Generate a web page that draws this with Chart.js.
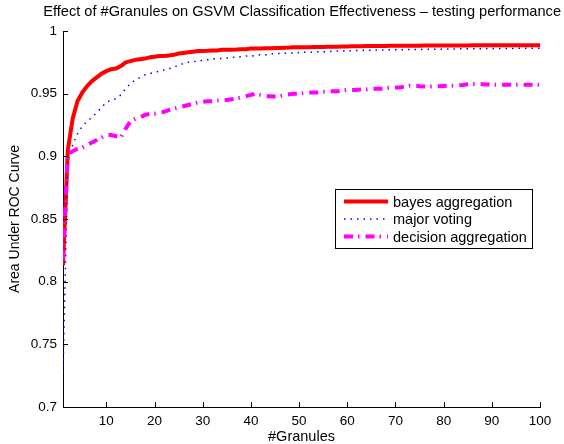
<!DOCTYPE html>
<html>
<head>
<meta charset="utf-8">
<script src="https://cdn.jsdelivr.net/npm/chart.js@4.4.1/dist/chart.umd.min.js"></script>
<style>
  html, body { margin: 0; padding: 0; background: #fff; }
  #wrap { width: 564px; height: 444px; }
</style>
</head>
<body>
<div id="wrap"><canvas id="aucChart" width="564" height="444"></canvas></div>
<script>
// #Granules on the x axis
var granules = Array.from({ length: 100 }, function (_, i) { return i + 1; });

var bayesAggregation = [
  0.813, 0.905, 0.930, 0.944, 0.951, 0.956, 0.960, 0.963, 0.966, 0.968,
  0.9695, 0.970, 0.972, 0.975, 0.976, 0.977, 0.9775, 0.978, 0.979, 0.9795,
  0.980, 0.980, 0.9805, 0.981, 0.982, 0.9825, 0.983, 0.9835, 0.984, 0.984,
  0.9842, 0.9845, 0.9845, 0.985, 0.985, 0.985, 0.9852, 0.9855, 0.9855, 0.986,
  0.986, 0.986, 0.9862, 0.9862, 0.9865, 0.9865, 0.9867, 0.9868, 0.987, 0.987,
  0.987, 0.987, 0.9872, 0.9872, 0.9873, 0.9875, 0.9875, 0.9875, 0.9876, 0.9877,
  0.9878, 0.9878, 0.9879, 0.988, 0.988, 0.988, 0.988, 0.9881, 0.9882, 0.9882,
  0.9882, 0.9882, 0.9883, 0.9883, 0.9883, 0.9884, 0.9884, 0.9884, 0.9884, 0.9885,
  0.9885, 0.9885, 0.9885, 0.9885, 0.9885, 0.9886, 0.9886, 0.9886, 0.9886, 0.9886,
  0.9886, 0.9886, 0.9886, 0.9887, 0.9887, 0.9887, 0.9887, 0.9887, 0.9887, 0.9887
];

var majorVoting = [
  0.727, 0.896, 0.909, 0.918, 0.924, 0.928, 0.931, 0.935, 0.939, 0.943,
  0.945, 0.946, 0.949, 0.954, 0.958, 0.961, 0.963, 0.965, 0.966, 0.967,
  0.968, 0.969, 0.970, 0.971, 0.973, 0.974, 0.975, 0.9755, 0.976, 0.9765,
  0.977, 0.9775, 0.978, 0.978, 0.9785, 0.979, 0.979, 0.9795, 0.980, 0.980,
  0.9805, 0.981, 0.981, 0.9815, 0.982, 0.982, 0.9822, 0.9824, 0.9826, 0.9828,
  0.983, 0.983, 0.9832, 0.9834, 0.9835, 0.9836, 0.9838, 0.984, 0.984, 0.9842,
  0.9843, 0.9844, 0.9845, 0.9846, 0.9847, 0.9848, 0.9848, 0.9849, 0.985, 0.985,
  0.985, 0.9851, 0.9852, 0.9852, 0.9853, 0.9854, 0.9854, 0.9855, 0.9855, 0.9856,
  0.9856, 0.9857, 0.9857, 0.9858, 0.9858, 0.9858, 0.9859, 0.9859, 0.986, 0.986,
  0.986, 0.986, 0.9861, 0.9861, 0.9861, 0.9862, 0.9862, 0.9862, 0.9862, 0.9862
];

var decisionAggregation = [
  0.818, 0.902, 0.904, 0.906, 0.907, 0.909, 0.911, 0.913, 0.915, 0.917,
  0.917, 0.916, 0.915, 0.922, 0.928, 0.930, 0.931, 0.933, 0.934, 0.934,
  0.935, 0.9355, 0.937, 0.938, 0.939, 0.940, 0.941, 0.942, 0.943, 0.9435,
  0.944, 0.944, 0.9445, 0.945, 0.945, 0.9455, 0.946, 0.947, 0.948, 0.949,
  0.950, 0.949, 0.948, 0.948, 0.9478, 0.948, 0.949, 0.9495, 0.950, 0.950,
  0.9505, 0.951, 0.951, 0.951, 0.9515, 0.9515, 0.952, 0.952, 0.9525, 0.953,
  0.953, 0.953, 0.9535, 0.9535, 0.954, 0.954, 0.954, 0.9545, 0.9548, 0.955,
  0.955, 0.9558, 0.9564, 0.9564, 0.956, 0.9558, 0.9556, 0.9558, 0.956, 0.9562,
  0.9564, 0.9564, 0.9566, 0.957, 0.9575, 0.9578, 0.9578, 0.9576, 0.9574, 0.9572,
  0.9572, 0.9572, 0.9572, 0.9572, 0.9572, 0.9572, 0.9572, 0.9572, 0.9572, 0.9572
];

var xTicks = [10, 20, 30, 40, 50, 60, 70, 80, 90, 100];
var yTicks = [0.7, 0.75, 0.8, 0.85, 0.9, 0.95, 1];

function toPoints(values) {
  return values.map(function (v, i) { return { x: granules[i], y: v }; });
}

var FONT = 'Liberation Sans, Arial, Helvetica, sans-serif';

// matlab-like ticks pointing into the plot area
var inwardTicks = {
  id: 'inwardTicks',
  afterDraw: function (chart) {
    var ctx = chart.ctx, area = chart.chartArea;
    var xs = chart.scales.x, ys = chart.scales.y;
    ctx.save();
    ctx.strokeStyle = '#000';
    ctx.lineWidth = 1;
    ctx.beginPath();
    xs.ticks.forEach(function (t) {
      var px = Math.round(xs.getPixelForValue(t.value)) + 0.5;
      ctx.moveTo(px, area.bottom);
      ctx.lineTo(px, area.bottom - 5);
    });
    ys.ticks.forEach(function (t) {
      var py = Math.round(ys.getPixelForValue(t.value)) + 0.5;
      ctx.moveTo(area.left, py);
      ctx.lineTo(area.left + 5, py);
    });
    ctx.stroke();
    ctx.restore();
  }
};

// legend box inside the plot, like the matlab figure
var boxLegend = {
  id: 'boxLegend',
  afterDraw: function (chart) {
    var ctx = chart.ctx;
    var x0 = 335.5, y0 = 189.5, w = 197, h = 59;
    ctx.save();
    ctx.fillStyle = '#fff';
    ctx.fillRect(x0, y0, w, h);
    ctx.strokeStyle = '#000';
    ctx.lineWidth = 1;
    ctx.strokeRect(x0, y0, w, h);
    ctx.font = '14.5px ' + FONT;
    ctx.textBaseline = 'middle';
    ctx.fillStyle = '#000';
    chart.data.datasets.forEach(function (ds, i) {
      var yy = 201.5 + i * 17.5;
      ctx.save();
      ctx.strokeStyle = ds.borderColor;
      ctx.lineWidth = ds.borderWidth;
      ctx.setLineDash(ds.borderDash || []);
      ctx.beginPath();
      ctx.moveTo(344, yy);
      ctx.lineTo(388, yy);
      ctx.stroke();
      ctx.restore();
      ctx.fillText(ds.label, 393, yy + 1);
    });
    ctx.restore();
  }
};

var ctx1 = document.getElementById('aucChart').getContext('2d');
var aucChart = new Chart(ctx1, {
  type: 'line',
  data: {
    datasets: [{
      label: 'bayes aggregation',
      data: toPoints(bayesAggregation),
      borderColor: '#ff0000',
      borderWidth: 4,
      borderJoinStyle: 'round',
      order: 2
    }, {
      label: 'major voting',
      data: toPoints(majorVoting),
      borderColor: '#0000ff',
      borderWidth: 1.5,
      borderDash: [1.5, 5],
      order: 1
    }, {
      label: 'decision aggregation',
      data: toPoints(decisionAggregation),
      borderColor: '#ff00ff',
      borderWidth: 4,
      borderDash: [9, 5, 1.5, 6],
      order: 0
    }]
  },
  options: {
    responsive: false,
    animation: false,
    events: [],
    elements: {
      point: { radius: 0 },
      line: { tension: 0, fill: false }
    },
    layout: { padding: { left: 0, right: 3, top: 0, bottom: 0 } },
    plugins: {
      legend: { display: false },
      tooltip: { enabled: false },
      title: {
        display: true,
        align: 'end',
        text: 'Effect of #Granules on GSVM Classification Effectiveness \u2013 testing performance',
        color: '#000',
        font: { family: FONT, size: 14.6, weight: 'normal', lineHeight: 1 },
        padding: { top: 4.75, bottom: 11.65 }
      }
    },
    scales: {
      x: {
        type: 'linear',
        min: 1,
        max: 100,
        afterBuildTicks: function (scale) {
          scale.ticks = xTicks.map(function (v) { return { value: v }; });
        },
        afterFit: function (scale) {
          scale.height = 37;
          scale.paddingRight = 24;
        },
        grid: { display: true, drawOnChartArea: false, drawTicks: false, color: '#000' },
        border: { display: true, color: '#000', width: 1 },
        ticks: {
          color: '#000',
          padding: 6,
          maxRotation: 0,
          font: { family: FONT, size: 13.5 }
        },
        title: {
          display: true,
          text: '#Granules',
          color: '#000',
          font: { family: FONT, size: 14.5, lineHeight: 1 },
          padding: { top: 0, bottom: 0 }
        }
      },
      y: {
        type: 'linear',
        min: 0.7,
        max: 1,
        afterBuildTicks: function (scale) {
          scale.ticks = yTicks.map(function (v) { return { value: v }; });
        },
        afterFit: function (scale) { scale.width = 63; },
        grid: { display: true, drawOnChartArea: false, drawTicks: false, color: '#000' },
        border: { display: true, color: '#000', width: 1 },
        ticks: {
          color: '#000',
          padding: 6,
          font: { family: FONT, size: 13.5 },
          callback: function (v) { return String(parseFloat(v.toFixed(2))); }
        },
        title: {
          display: true,
          text: 'Area Under ROC Curve',
          color: '#000',
          font: { family: FONT, size: 14, lineHeight: 1 },
          padding: { top: 8, bottom: 0 }
        }
      }
    }
  },
  plugins: [inwardTicks, boxLegend]
});
</script>
</body>
</html>
